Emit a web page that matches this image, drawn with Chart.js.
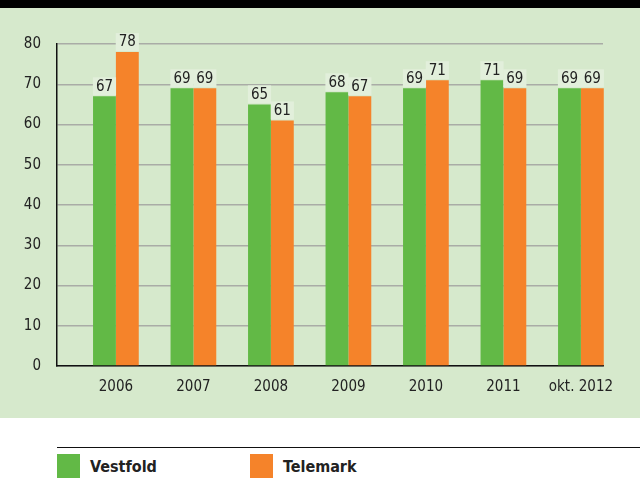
<!DOCTYPE html>
<html>
<head>
<meta charset="utf-8">
<script src="https://cdn.jsdelivr.net/npm/chart.js@4/dist/chart.umd.min.js"></script>
<style>
  body { margin: 0; width: 640px; height: 478px; overflow: hidden; background: #fff;
         font-family: "DejaVu Sans Condensed", "Liberation Sans Narrow", sans-serif; }
  #top { height: 8px; background: #000; }
  #plot { height: 410px; background: #d6e9cc; position: relative; }
  #legend { position: absolute; top: 447px; left: 57px; right: 0; border-top: 1.5px solid #111; }
  .item { position: absolute; top: 6px; height: 25px; display: flex; align-items: center;
          font-weight: bold; font-size: 16px; color: #222; }
  .box { width: 23px; height: 25px; margin-right: 10px; }
</style>
</head>
<body>
<div id="top"></div>
<div id="plot"><canvas id="chart" width="640" height="410"></canvas></div>
<div id="legend">
  <div class="item" style="left:0"><span class="box" style="background:#62b946"></span>Vestfold</div>
  <div class="item" style="left:193px"><span class="box" style="background:#f5832a"></span>Telemark</div>
</div>
<script>
const categories = ['2006', '2007', '2008', '2009', '2010', '2011', 'okt. 2012'];
const vestfold = [67, 69, 65, 68, 69, 71, 69];
const telemark = [78, 69, 61, 67, 71, 69, 69];
const yTicks = [0, 10, 20, 30, 40, 50, 60, 70, 80];

const fam = '"DejaVu Sans Condensed", sans-serif';

// value labels over the bars, with a pale box that hides the gridline
const barLabels = {
  id: 'barLabels',
  afterDatasetsDraw(chart) {
    const ctx = chart.ctx;
    ctx.save();
    ctx.font = '15px ' + fam;
    ctx.textAlign = 'center';
    ctx.textBaseline = 'bottom';
    chart.data.datasets.forEach((ds, i) => {
      chart.getDatasetMeta(i).data.forEach((bar, j) => {
        const txt = String(ds.data[j].y);
        const w = ctx.measureText(txt).width;
        ctx.fillStyle = '#e2efdb';
        ctx.fillRect(bar.x - w / 2 - 3, bar.y - 19, w + 6, 18);
        ctx.fillStyle = '#222';
        ctx.fillText(txt, bar.x, bar.y - 2);
      });
    });
    ctx.restore();
  }
};

const toPoints = arr => arr.map((v, i) => ({ x: i, y: v }));

new Chart(document.getElementById('chart'), {
  type: 'bar',
  data: {
    datasets: [
      { label: 'Vestfold', data: toPoints(vestfold), backgroundColor: '#62b946', clip: false },
      { label: 'Telemark', data: toPoints(telemark), backgroundColor: '#f5832a', clip: false }
    ]
  },
  options: {
    responsive: false,
    animation: false,
    layout: { padding: { top: 36, right: 37, left: 0, bottom: 0 } },
    datasets: { bar: { categoryPercentage: 0.59, barPercentage: 1 } },
    plugins: { legend: { display: false }, tooltip: { enabled: false } },
    scales: {
      x: {
        type: 'linear',
        offset: false,
        min: -0.76, max: 6.285,
        afterBuildTicks: s => { s.ticks = categories.map((c, i) => ({ value: i })); },
        grid: { display: false },
        border: { color: '#111', width: 1.5 },
        ticks: { color: '#222', font: { size: 15, family: fam }, padding: 4,
                 callback: v => categories[v] },
        afterFit: s => { s.height = 52; }
      },
      y: {
        min: 0, max: 80,
        afterBuildTicks: s => { s.ticks = yTicks.map(v => ({ value: v })); },
        grid: { color: '#a9aca6', lineWidth: 1.5, drawTicks: false },
        border: { color: '#111', width: 1.5 },
        ticks: { color: '#222', font: { size: 15, family: fam }, padding: 16 },
        afterFit: s => { s.width = 57; }
      }
    }
  },
  plugins: [barLabels]
});
</script>
</body>
</html>
